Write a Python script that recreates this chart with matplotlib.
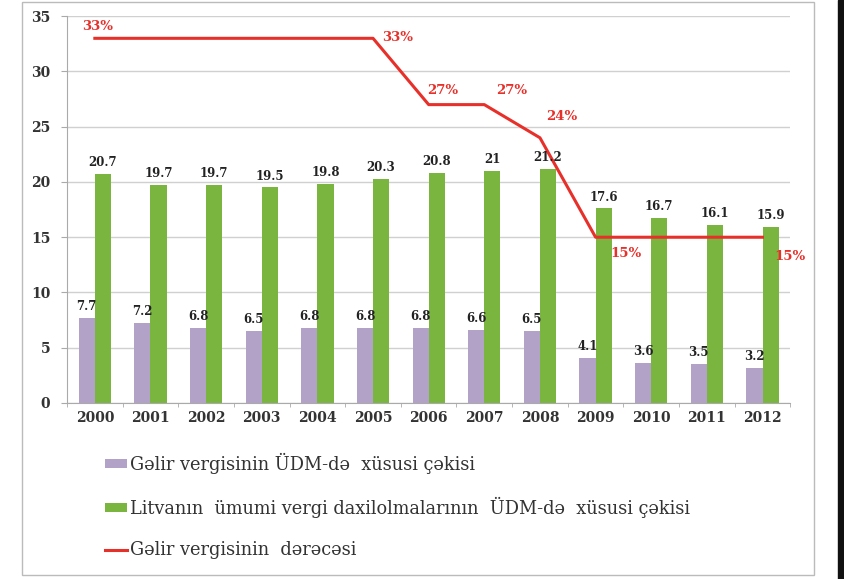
import numpy as np
import matplotlib
matplotlib.use("Agg")
import matplotlib.pyplot as plt
from matplotlib.patches import Rectangle

# ── Data ───────────────────────────────────────────────────────
years = ["2000", "2001", "2002", "2003", "2004", "2005", "2006",
         "2007", "2008", "2009", "2010", "2011", "2012"]
income_tax_share = [7.7, 7.2, 6.8, 6.5, 6.8, 6.8, 6.8, 6.6, 6.5, 4.1, 3.6, 3.5, 3.2]
total_tax_share = [20.7, 19.7, 19.7, 19.5, 19.8, 20.3, 20.8, 21, 21.2, 17.6, 16.7, 16.1, 15.9]
income_tax_rate = [33, 33, 33, 33, 33, 33, 27, 27, 24, 15, 15, 15, 15]
rate_labels = {0: "33%", 5: "33%", 6: "27%", 7: "27%", 8: "24%", 9: "15%", 12: "15%"}

legend_labels = [
    "Gəlir vergisinin ÜDM-də  xüsusi çəkisi",
    "Litvanın  ümumi vergi daxilolmalarının  ÜDM-də  xüsusi çəkisi",
    "Gəlir vergisinin  dərəcəsi",
]

PURPLE = "#B3A2C7"
GREEN = "#7AB63F"
RED = "#E8302A"
SERIF = "DejaVu Serif"

fig = plt.figure(figsize=(8.45, 5.79), dpi=100)
ax = fig.add_axes([0.0793, 0.304, 0.856, 0.668])

x = np.arange(len(years))
w = 0.29
b1 = ax.bar(x - w / 2, income_tax_share, w, color=PURPLE, zorder=2,
            label=legend_labels[0])
b2 = ax.bar(x + w / 2, total_tax_share, w, color=GREEN, zorder=2,
            label=legend_labels[1])
ln, = ax.plot(x, income_tax_rate, color=RED, lw=2.2, zorder=3,
              label=legend_labels[2])

for i, v in enumerate(income_tax_share):
    ax.text(x[i] - w / 2, v + 0.45, f"{v:g}", ha="center", va="bottom",
            fontsize=8.5, fontweight="bold", family=SERIF, color="#222222")
for i, v in enumerate(total_tax_share):
    ax.text(x[i] + w / 2, v + 0.45, f"{v:g}", ha="center", va="bottom",
            fontsize=8.5, fontweight="bold", family=SERIF, color="#222222")

# rate labels: offsets in data units (dx, dy)
offsets = {0: (0.05, 1.1), 5: (0.45, 0.1), 6: (0.25, 1.3), 7: (0.5, 1.3),
           8: (0.4, 1.9), 9: (0.55, -1.5), 12: (0.5, -1.7)}
for i, txt in rate_labels.items():
    dx, dy = offsets[i]
    ax.text(x[i] + dx, income_tax_rate[i] + dy, txt, ha="center",
            va="center", fontsize=9.5, fontweight="bold", family=SERIF,
            color=RED, zorder=4)

ax.set_xlim(-0.5, len(years) - 0.5)
ax.set_ylim(0, 35)
ax.set_yticks(range(0, 36, 5))
ax.set_xticks(x)
ax.set_xticklabels(years, family=SERIF, fontsize=10, fontweight="bold",
                   color="#333333")
ax.set_xticks(np.arange(-0.5, len(years)), minor=True)
ax.tick_params(axis="x", which="major", length=0, pad=6)
ax.tick_params(axis="x", which="minor", length=3, color="#aaaaaa")
ax.tick_params(axis="y", length=4, color="#aaaaaa", pad=8)
for lbl in ax.get_yticklabels():
    lbl.set_family(SERIF)
    lbl.set_fontsize(10)
    lbl.set_fontweight("bold")
    lbl.set_color("#333333")

ax.grid(axis="y", color="#d0d0d0", lw=1, zorder=0)
for s in ["top", "right"]:
    ax.spines[s].set_visible(False)
ax.spines["left"].set_color("#aaaaaa")
ax.spines["bottom"].set_color("#aaaaaa")

leg = fig.legend(handles=[b1, b2, ln], loc="upper left",
                 bbox_to_anchor=(0.116, 0.23), frameon=False,
                 prop={"family": SERIF, "size": 12.8},
                 handlelength=1.25, handleheight=0.4, handletextpad=0.15,
                 labelspacing=1.3, borderaxespad=0)
for t in leg.get_texts():
    t.set_color("#333333")

# frame around the chart and dark strip at right
fig.add_artist(Rectangle((0.026, 0.007), 0.937, 0.99, transform=fig.transFigure,
                         fill=False, ec="#bbbbbb", lw=1))
fig.add_artist(Rectangle((0.992, 0.0), 0.01, 1.0, transform=fig.transFigure,
                         color="#111111"))

fig.savefig("out.png", dpi=100)
